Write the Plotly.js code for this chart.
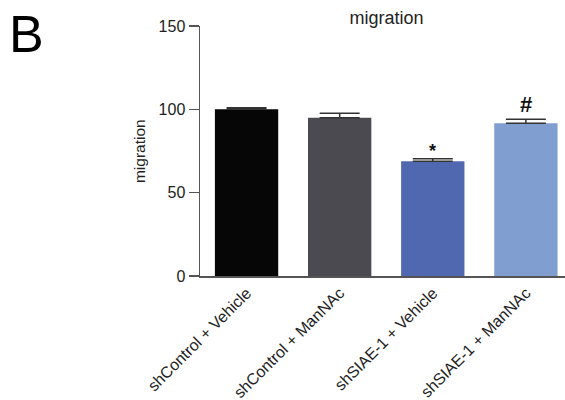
<!DOCTYPE html>
<html><head><meta charset="utf-8">
<script src="https://cdn.plot.ly/plotly-3.0.1.min.js"></script>
<style>body{margin:0;background:#fff}#c{width:565px;height:400px}</style>
</head><body><div id="c"></div>
<script>
const categories = ["shControl + Vehicle", "shControl + ManNAc", "shSIAE-1 + Vehicle", "shSIAE-1 + ManNAc"];
const values = [100, 95, 68.8, 91.6];
const errors = [1, 2.6, 1.6, 2.4];
const marks = ["", "", "*", "#"];
const colors = ["#060606", "#4a4a50", "#5068b0", "#809fd0"];

const F = "Liberation Sans, Arial, sans-serif";
const annotations = [
  {text: "B", xref: "paper", yref: "paper", x: -0.474, y: 0.97, xanchor: "center", yanchor: "middle", showarrow: false, font: {family: F, size: 52, color: "#000"}},
  {text: "migration", xref: "paper", yref: "paper", x: -0.167, y: 0.5, xanchor: "center", textangle: -90, showarrow: false, font: {family: F, size: 15.5, color: "#222"}},
];
marks.forEach((m, i) => {
  if (m) annotations.push({text: "<b>" + m + "</b>", x: i, y: values[i] + errors[i], yanchor: "bottom", yshift: m === "*" ? -4 : 0, showarrow: false, font: {family: F, size: m === "*" ? 18 : 22, color: "#111"}});
});

Plotly.newPlot("c", [{
  type: "bar", x: [0, 1, 2, 3], y: values,
  marker: {color: colors, line: {width: 0}},
  error_y: {type: "data", symmetric: false, array: errors, arrayminus: [0, 0, 0, 0], color: "#333", thickness: 1.5, width: 20},
  hoverinfo: "none"
}], {
  width: 565, height: 400,
  margin: {l: 200, r: 0, t: 26, b: 124},
  paper_bgcolor: "#fff", plot_bgcolor: "#fff",
  showlegend: false, bargap: 0.32,
  title: {text: "migration", x: 0.684, xanchor: "center", y: 0.955, yanchor: "middle", font: {family: F, size: 18, color: "#222"}},
  xaxis: {range: [-0.5, 3.42], tickmode: "array", tickvals: [0, 1, 2, 3], ticktext: categories, tickangle: -45,
    showline: true, linecolor: "#555", linewidth: 1.5, ticks: "", showgrid: false, zeroline: false,
    tickfont: {family: F, size: 16, color: "#222"}},
  yaxis: {range: [0, 150], tickvals: [0, 50, 100, 150], showline: true, linecolor: "#555", linewidth: 1.5,
    ticks: "outside", ticklen: 10, tickwidth: 1.5, tickcolor: "#555", showgrid: false, zeroline: false,
    tickfont: {family: F, size: 16, color: "#222"}},
  annotations: annotations
}, {staticPlot: true});
</script></body></html>
